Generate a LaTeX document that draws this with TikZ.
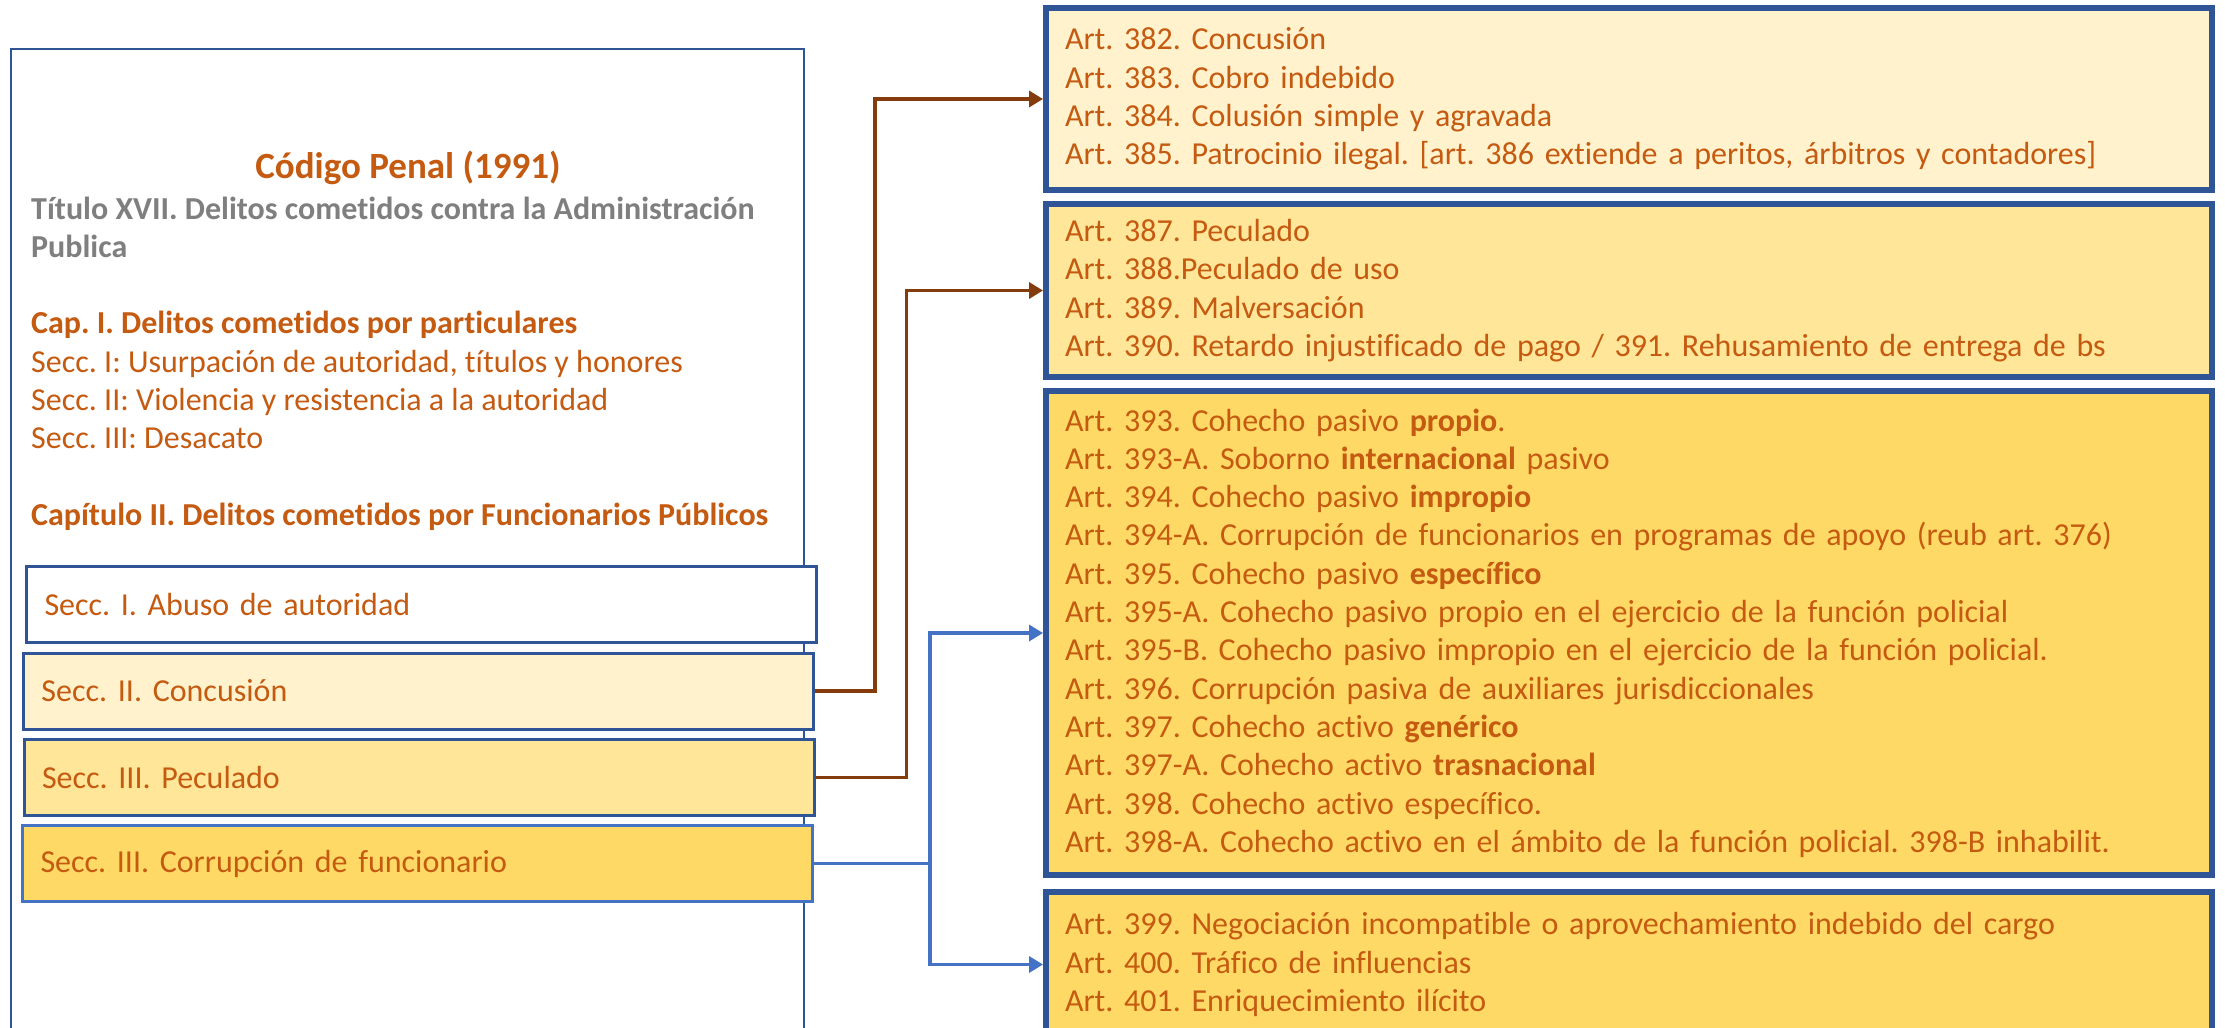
\documentclass[tikz,border=0pt]{standalone}
\usepackage{fontspec}
\setmainfont{Carlito}[Ligatures=NoCommon]
\usetikzlibrary{arrows.meta}
\definecolor{orangetxt}{HTML}{C55A11}
\definecolor{graytxt}{HTML}{7F7F7F}
\definecolor{darkblue}{HTML}{2F5597}
\definecolor{midblue}{HTML}{4472C4}
\definecolor{brownline}{HTML}{843C0C}
\definecolor{creamfill}{HTML}{FFF2CC}
\definecolor{lightgold}{HTML}{FFE699}
\definecolor{gold}{HTML}{FFD966}
\frenchspacing
\begin{document}
\begin{tikzpicture}[x=1pt,y=-1pt,
  bodyfont/.style={font=\fontsize{32}{38.3}\selectfont},
  txt/.style={bodyfont,text=orangetxt,inner sep=0pt,anchor=base west},
  btxt/.style={font=\bfseries\fontsize{32}{38.3}\selectfont,text=orangetxt,inner sep=0pt,anchor=base west},
  gtxt/.style={font=\bfseries\fontsize{32}{38.3}\selectfont,text=graytxt,inner sep=0pt,anchor=base west},
  secbox/.style={draw=darkblue,line width=3pt,text width=754pt,inner xsep=18pt,inner ysep=0pt,
    minimum height=76pt,align=left,bodyfont,text=orangetxt},
  artbox/.style={draw=darkblue,line width=6pt,text width=1128pt,inner xsep=19pt,inner ysep=0pt,
    align=left,bodyfont,text=orangetxt},
  brownarrow/.style={draw=brownline,line width=3.6pt,-{Triangle[length=14pt,width=16pt]}},
  bluearrow/.style={draw=midblue,line width=3.4pt,-{Triangle[length=14pt,width=16pt]}},
  blueline/.style={draw=midblue,line width=3.4pt}
]
\useasboundingbox (0,0) rectangle (2225,1028);
\clip (0,0) rectangle (2225,1028);
\fill[white] (0,0) rectangle (2225,1028);

% outer frame
\node[draw=darkblue,line width=2pt,minimum width=793pt,minimum height=1000pt,inner sep=0pt,anchor=north west] (outer) at (10,48) {};

% left texts
\node[font=\bfseries\fontsize{37}{44}\selectfont,text=orangetxt,inner sep=0pt,anchor=base] (title) at (408,178) {Código Penal (1991)};
\node[gtxt] (titulo) at (31,219) {Título XVII. Delitos cometidos contra la Administración};
\node[gtxt] (publica) at (31,257.3) {Publica};
\node[btxt] (cap1) at (31,333.9) {Cap. I. Delitos cometidos por particulares};
\node[txt] (sec1) at (31,372.2) {Secc. I: Usurpación de autoridad, títulos y honores};
\node[txt] (sec2) at (31,410.5) {Secc. II: Violencia y resistencia a la autoridad};
\node[txt] (sec3) at (31,448.8) {Secc. III: Desacato};
\node[btxt] (cap2) at (31,525.4) {Capítulo II. Delitos cometidos por Funcionarios Públicos};

% section boxes
\node[secbox,fill=white] (s1) at (421.5,604.5) {\mbox{Secc. I. Abuso de autoridad}};
\node[secbox,fill=creamfill] (s2) at (418.5,691) {\mbox{Secc. II. Concusión}};
\node[secbox,fill=lightgold] (s3) at (419,777.5) {\mbox{Secc. III. Peculado}};
\node[secbox,fill=gold,draw=midblue] (s4) at (417.5,863.5) {\mbox{Secc. III. Corrupción de funcionario}};

% article boxes
\node[artbox,fill=creamfill,minimum height=182pt] (bA) at (1629,99) {Art. 382. Concusión\\
Art. 383. Cobro indebido\\
Art. 384. Colusión simple y agravada\\
Art. 385. Patrocinio ilegal. [art. 386 extiende a peritos, árbitros y contadores]};
\node[artbox,fill=lightgold,minimum height=173pt] (bB) at (1629,290.5) {Art. 387. Peculado\\
Art. 388.Peculado de uso\\
Art. 389. Malversación\\
Art. 390. Retardo injustificado de pago / 391. Rehusamiento de entrega de bs};
\node[artbox,fill=gold,minimum height=484pt] (bC) at (1629,633) {Art. 393. Cohecho pasivo \textbf{propio}.\\
Art. 393-A. Soborno \textbf{internacional} pasivo\\
Art. 394. Cohecho pasivo \textbf{impropio}\\
Art. 394-A. Corrupción de funcionarios en programas de apoyo (reub art. 376)\\
Art. 395. Cohecho pasivo \textbf{específico}\\
Art. 395-A. Cohecho pasivo propio en el ejercicio de la función policial\\
Art. 395-B. Cohecho pasivo impropio en el ejercicio de la función policial.\\
Art. 396. Corrupción pasiva de auxiliares jurisdiccionales\\
Art. 397. Cohecho activo \textbf{genérico}\\
Art. 397-A. Cohecho activo \textbf{trasnacional}\\
Art. 398. Cohecho activo específico.\\
Art. 398-A. Cohecho activo en el ámbito de la función policial. 398-B inhabilit.};
\node[artbox,fill=gold,minimum height=145pt] (bD) at (1629,964.5) {Art. 399. Negociación incompatible o aprovechamiento indebido del cargo\\
Art. 400. Tráfico de influencias\\
Art. 401. Enriquecimiento ilícito};

% connectors
\draw[brownarrow] (s2.east) -- ++(60,0) |- (bA.west);
\draw[brownarrow] (s3.east) -- ++(91,0) |- (bB.west);
\coordinate (junc) at ([xshift=116pt]s4.east);
\draw[blueline] (s4.east) -- (junc);
\draw[bluearrow] (junc) |- (bC.west);
\draw[bluearrow] (junc) |- (bD.west);
\end{tikzpicture}
\end{document}
